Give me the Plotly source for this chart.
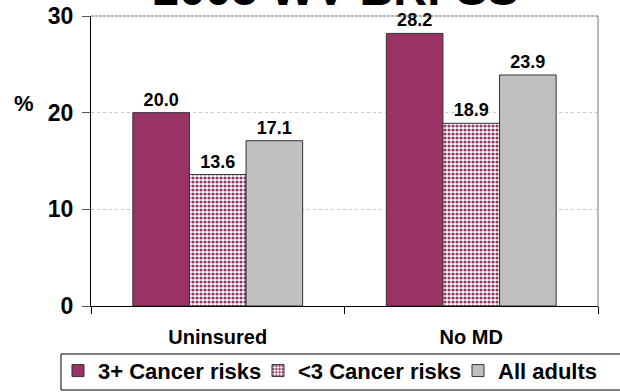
import plotly.graph_objects as go

# Survey groups and percentages by cancer-risk status
categories = ["Uninsured", "No MD"]
series_names = ["3+ Cancer risks", "<3 Cancer risks", "All adults"]
risk3_plus = [20.0, 28.2]
risk_under3 = [13.6, 18.9]
all_adults = [17.1, 23.9]
y_ticks = [0, 10, 20, 30]

FONT = '"Liberation Sans", Arial, Helvetica, sans-serif'
MAROON = "#993366"
SILVER = "#C0C0C0"
OUTLINE = "#333333"

label_font = dict(family=FONT, size=18, color="black", weight="bold")

fig = go.Figure()

fig.add_trace(go.Bar(
    name=series_names[0], x=categories, y=risk3_plus,
    marker=dict(color=MAROON, line=dict(color=OUTLINE, width=1)),
    texttemplate="%{y:.1f}", textposition="outside", textfont=label_font,
    cliponaxis=False, constraintext="none",
))
fig.add_trace(go.Bar(
    name=series_names[1], x=categories, y=risk_under3,
    marker=dict(
        color="white",
        line=dict(color=OUTLINE, width=1),
        pattern=dict(shape=".", fgcolor=MAROON, bgcolor="white",
                     size=4, solidity=0.5, fillmode="replace"),
    ),
    texttemplate="%{y:.1f}", textposition="outside", textfont=label_font,
    cliponaxis=False, constraintext="none",
))
fig.add_trace(go.Bar(
    name=series_names[2], x=categories, y=all_adults,
    marker=dict(color=SILVER, line=dict(color=OUTLINE, width=1)),
    texttemplate="%{y:.1f}", textposition="outside", textfont=label_font,
    cliponaxis=False, constraintext="none",
))

fig.update_layout(
    width=620, height=392,
    margin=dict(l=91, r=22, t=16, b=86, autoexpand=False),
    paper_bgcolor="white", plot_bgcolor="white",
    barmode="group", bargap=0.33, bargroupgap=0,
    font=dict(family=FONT, color="black"),
    showlegend=True,
    legend=dict(
        orientation="h", x=-0.0651, xanchor="left", y=-0.151, yanchor="top",
        font=dict(family=FONT, size=22, color="black", weight="bold"),
        borderwidth=0, bgcolor="rgba(0,0,0,0)",
        itemwidth=30, traceorder="normal",
        entrywidth=155, entrywidthmode="pixels",
    ),
    xaxis=dict(
        showline=True, linecolor="black", linewidth=1,
        ticks="outside", tickson="boundaries", ticklen=7, tickcolor="black",
        tickfont=dict(family=FONT, size=20, color="black", weight="bold"),
        ticklabelstandoff=13, showgrid=False, fixedrange=True,
    ),
    yaxis=dict(
        range=[0, 30], tickvals=y_ticks,
        showline=True, linecolor="black", linewidth=1,
        ticks="outside", ticklen=8, tickcolor="#555555",
        tickfont=dict(family=FONT, size=23, color="black", weight="bold"),
        ticklabelstandoff=4,
        showgrid=True, gridcolor="#C8C8C8", griddash="3px,3px", gridwidth=1,
        zeroline=False, fixedrange=True,
    ),
    shapes=[
        # plot frame: dashed top edge and thin right edge
        dict(type="line", xref="paper", yref="paper", x0=0, x1=1, y0=1, y1=1,
             line=dict(color="#666666", width=1, dash="3px,1px")),
        dict(type="line", xref="paper", yref="paper", x0=1, x1=1, y0=0, y1=1,
             line=dict(color="#777777", width=1)),
        # legend frame
        dict(type="rect", xref="paper", yref="paper",
             x0=-0.0592, x1=1.06, y0=-0.2897, y1=-0.1655,
             line=dict(color="black", width=1), fillcolor="rgba(0,0,0,0)"),
    ],
    annotations=[
        dict(text="2005 WV BRFSS", xref="paper", yref="paper", x=0.484, y=1.095,
             xanchor="center", yanchor="middle", showarrow=False,
             font=dict(family=FONT, size=47, color="black", weight="bold")),
        dict(text="%", xref="paper", yref="paper", x=-0.132, y=0.697,
             xanchor="center", yanchor="middle", showarrow=False,
             font=dict(family=FONT, size=22, color="black", weight="bold")),
    ],
)

fig.write_html("out.html")
